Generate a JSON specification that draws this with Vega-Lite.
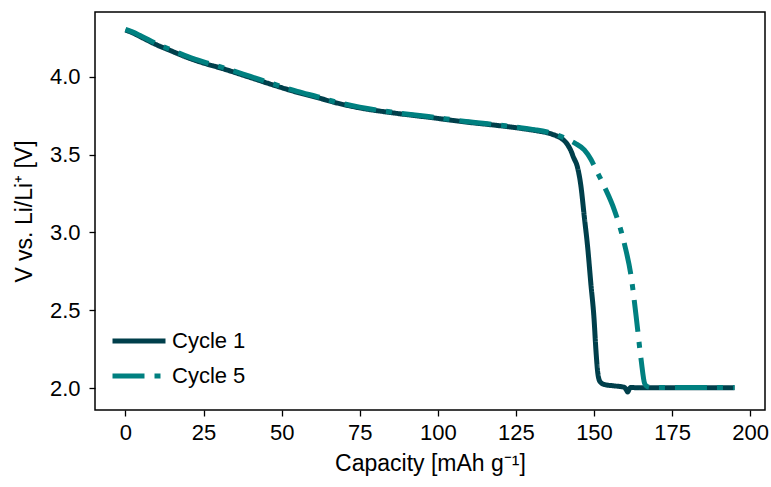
{
  "$schema": "https://vega.github.io/schema/vega-lite/v6.json",
  "width": 670,
  "height": 398,
  "autosize": {"type": "none"},
  "padding": {"left": 95, "top": 12, "right": 6, "bottom": 77},
  "background": "white",
  "config": {
    "font": "Liberation Sans",
    "view": {"stroke": "black", "strokeWidth": 1.5},
    "axis": {
      "grid": false,
      "domain": false,
      "tickColor": "black",
      "tickSize": 6,
      "tickWidth": 1.3,
      "labelFont": "Liberation Sans",
      "labelFontSize": 22,
      "labelColor": "black",
      "titleFont": "Liberation Sans",
      "titleFontSize": 23,
      "titleFontWeight": "normal",
      "titleColor": "black"
    }
  },
  "data": {
    "values": [
      {"capacity": 0, "voltage": 4.30, "series": "Cycle 1"},
      {"capacity": 2, "voltage": 4.285, "series": "Cycle 1"},
      {"capacity": 5, "voltage": 4.255, "series": "Cycle 1"},
      {"capacity": 10, "voltage": 4.205, "series": "Cycle 1"},
      {"capacity": 15, "voltage": 4.163, "series": "Cycle 1"},
      {"capacity": 20, "voltage": 4.122, "series": "Cycle 1"},
      {"capacity": 25, "voltage": 4.088, "series": "Cycle 1"},
      {"capacity": 31, "voltage": 4.053, "series": "Cycle 1"},
      {"capacity": 40, "voltage": 3.995, "series": "Cycle 1"},
      {"capacity": 47, "voltage": 3.949, "series": "Cycle 1"},
      {"capacity": 55, "voltage": 3.900, "series": "Cycle 1"},
      {"capacity": 62, "voltage": 3.863, "series": "Cycle 1"},
      {"capacity": 67, "voltage": 3.835, "series": "Cycle 1"},
      {"capacity": 75, "voltage": 3.800, "series": "Cycle 1"},
      {"capacity": 86, "voltage": 3.767, "series": "Cycle 1"},
      {"capacity": 97, "voltage": 3.740, "series": "Cycle 1"},
      {"capacity": 109, "voltage": 3.709, "series": "Cycle 1"},
      {"capacity": 120, "voltage": 3.685, "series": "Cycle 1"},
      {"capacity": 126, "voltage": 3.670, "series": "Cycle 1"},
      {"capacity": 131, "voltage": 3.655, "series": "Cycle 1"},
      {"capacity": 135, "voltage": 3.640, "series": "Cycle 1"},
      {"capacity": 138, "voltage": 3.620, "series": "Cycle 1"},
      {"capacity": 140, "voltage": 3.598, "series": "Cycle 1"},
      {"capacity": 141.5, "voltage": 3.565, "series": "Cycle 1"},
      {"capacity": 142.5, "voltage": 3.530, "series": "Cycle 1"},
      {"capacity": 143.5, "voltage": 3.480, "series": "Cycle 1"},
      {"capacity": 144.7, "voltage": 3.420, "series": "Cycle 1"},
      {"capacity": 145.8, "voltage": 3.300, "series": "Cycle 1"},
      {"capacity": 146.9, "voltage": 3.100, "series": "Cycle 1"},
      {"capacity": 148, "voltage": 2.900, "series": "Cycle 1"},
      {"capacity": 149, "voltage": 2.670, "series": "Cycle 1"},
      {"capacity": 150, "voltage": 2.450, "series": "Cycle 1"},
      {"capacity": 150.6, "voltage": 2.250, "series": "Cycle 1"},
      {"capacity": 151.2, "voltage": 2.100, "series": "Cycle 1"},
      {"capacity": 151.7, "voltage": 2.050, "series": "Cycle 1"},
      {"capacity": 152.5, "voltage": 2.030, "series": "Cycle 1"},
      {"capacity": 153.5, "voltage": 2.022, "series": "Cycle 1"},
      {"capacity": 156, "voltage": 2.015, "series": "Cycle 1"},
      {"capacity": 159.7, "voltage": 2.005, "series": "Cycle 1"},
      {"capacity": 160.3, "voltage": 1.990, "series": "Cycle 1"},
      {"capacity": 160.8, "voltage": 1.975, "series": "Cycle 1"},
      {"capacity": 161.3, "voltage": 1.995, "series": "Cycle 1"},
      {"capacity": 161.8, "voltage": 2.003, "series": "Cycle 1"},
      {"capacity": 165, "voltage": 2.002, "series": "Cycle 1"},
      {"capacity": 175, "voltage": 2.002, "series": "Cycle 1"},
      {"capacity": 185, "voltage": 2.002, "series": "Cycle 1"},
      {"capacity": 195, "voltage": 2.002, "series": "Cycle 1"},

      {"capacity": 0, "voltage": 4.305, "series": "Cycle 5"},
      {"capacity": 2, "voltage": 4.29, "series": "Cycle 5"},
      {"capacity": 5, "voltage": 4.262, "series": "Cycle 5"},
      {"capacity": 10, "voltage": 4.212, "series": "Cycle 5"},
      {"capacity": 15, "voltage": 4.170, "series": "Cycle 5"},
      {"capacity": 20, "voltage": 4.129, "series": "Cycle 5"},
      {"capacity": 25, "voltage": 4.095, "series": "Cycle 5"},
      {"capacity": 31, "voltage": 4.060, "series": "Cycle 5"},
      {"capacity": 40, "voltage": 4.002, "series": "Cycle 5"},
      {"capacity": 47, "voltage": 3.956, "series": "Cycle 5"},
      {"capacity": 55, "voltage": 3.906, "series": "Cycle 5"},
      {"capacity": 62, "voltage": 3.869, "series": "Cycle 5"},
      {"capacity": 67, "voltage": 3.840, "series": "Cycle 5"},
      {"capacity": 75, "voltage": 3.805, "series": "Cycle 5"},
      {"capacity": 86, "voltage": 3.771, "series": "Cycle 5"},
      {"capacity": 97, "voltage": 3.744, "series": "Cycle 5"},
      {"capacity": 109, "voltage": 3.713, "series": "Cycle 5"},
      {"capacity": 120, "voltage": 3.689, "series": "Cycle 5"},
      {"capacity": 126, "voltage": 3.674, "series": "Cycle 5"},
      {"capacity": 131, "voltage": 3.660, "series": "Cycle 5"},
      {"capacity": 135, "voltage": 3.645, "series": "Cycle 5"},
      {"capacity": 138, "voltage": 3.627, "series": "Cycle 5"},
      {"capacity": 141.5, "voltage": 3.598, "series": "Cycle 5"},
      {"capacity": 144, "voltage": 3.572, "series": "Cycle 5"},
      {"capacity": 146.9, "voltage": 3.530, "series": "Cycle 5"},
      {"capacity": 149, "voltage": 3.470, "series": "Cycle 5"},
      {"capacity": 150.6, "voltage": 3.405, "series": "Cycle 5"},
      {"capacity": 153.3, "voltage": 3.295, "series": "Cycle 5"},
      {"capacity": 156.5, "voltage": 3.145, "series": "Cycle 5"},
      {"capacity": 159.7, "voltage": 2.930, "series": "Cycle 5"},
      {"capacity": 161.9, "voltage": 2.716, "series": "Cycle 5"},
      {"capacity": 163.5, "voltage": 2.460, "series": "Cycle 5"},
      {"capacity": 165.1, "voltage": 2.180, "series": "Cycle 5"},
      {"capacity": 166.2, "voltage": 2.030, "series": "Cycle 5"},
      {"capacity": 167, "voltage": 2.010, "series": "Cycle 5"},
      {"capacity": 168.3, "voltage": 2.004, "series": "Cycle 5"},
      {"capacity": 175, "voltage": 2.003, "series": "Cycle 5"},
      {"capacity": 185, "voltage": 2.003, "series": "Cycle 5"},
      {"capacity": 195, "voltage": 2.003, "series": "Cycle 5"}
    ]
  },
  "mark": {"type": "line", "strokeWidth": 5, "strokeCap": "butt", "strokeJoin": "round", "interpolate": "monotone", "clip": true},
  "encoding": {
    "x": {
      "field": "capacity",
      "type": "quantitative",
      "scale": {"domain": [-9.75, 204.75], "nice": false, "zero": false},
      "axis": {"values": [0, 25, 50, 75, 100, 125, 150, 175, 200], "title": "Capacity [mAh g⁻¹]", "labelPadding": 6, "titlePadding": 9}
    },
    "y": {
      "field": "voltage",
      "type": "quantitative",
      "scale": {"domain": [1.859, 4.416], "nice": false, "zero": false},
      "axis": {"values": [2.0, 2.5, 3.0, 3.5, 4.0], "format": ".1f", "title": "V vs. Li/Li⁺ [V]", "labelPadding": 9, "titlePadding": 13}
    },
    "color": {
      "field": "series",
      "type": "nominal",
      "scale": {"domain": ["Cycle 1", "Cycle 5"], "range": ["#003f4b", "#008080"]},
      "legend": {
        "title": null,
        "orient": "none",
        "legendX": 15,
        "legendY": 314,
        "symbolType": "stroke",
        "symbolSize": 2809,
        "symbolStrokeWidth": 5,
        "clipHeight": 30,
        "labelFontSize": 22,
        "labelFont": "Liberation Sans",
        "labelColor": "black",
        "labelOffset": 4,
        "rowPadding": 5
      }
    },
    "strokeDash": {
      "field": "series",
      "type": "nominal",
      "scale": {"domain": ["Cycle 1", "Cycle 5"], "range": [[1, 0], [32, 10, 6, 10]]},
      "legend": null
    }
  }
}
